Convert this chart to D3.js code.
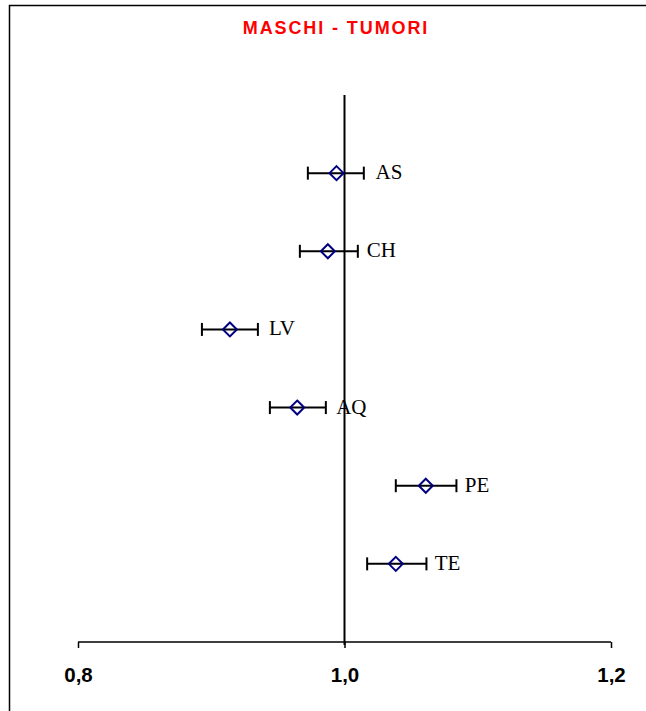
<!DOCTYPE html>
<html><head><meta charset="utf-8">
<script src="https://cdn.jsdelivr.net/npm/d3@7/dist/d3.min.js"></script>
<style>html,body{margin:0;padding:0;background:#fff;}svg{display:block;}</style>
</head><body>
<script>
const title = "MASCHI - TUMORI";
const categories = ["AS", "CH", "LV", "AQ", "PE", "TE"];
const estimates = [0.994, 0.9875, 0.914, 0.9645, 1.061, 1.0385];
const lower = [0.9725, 0.9665, 0.893, 0.944, 1.0385, 1.017];
const upper = [1.0145, 1.010, 0.935, 0.986, 1.084, 1.0615];
const xTicks = [0.8, 1.0, 1.2];
const refValue = 1.0;

const W = 646, H = 711;
const svg = d3.select("body").append("svg").attr("width", W).attr("height", H);

// border
svg.append("path").attr("d", `M9.5,${H} V5.5 H${W}`).attr("fill", "none").attr("stroke", "#000").attr("stroke-width", 1.5);

const x = d3.scaleLinear().domain([0.8, 1.2]).range([78, 611]);
const y = d3.scaleLinear().domain([0, categories.length + 1]).range([95, 642]);

svg.append("text").attr("x", 336).attr("y", 34).attr("text-anchor", "middle")
  .attr("font-family", "Arial, 'Liberation Sans', sans-serif").attr("font-weight", "bold")
  .attr("font-size", 18).attr("letter-spacing", 1.9).attr("fill", "#ff0000").text(title);

// x axis
const axis = d3.axisBottom(x).tickValues(xTicks).tickSize(6).tickPadding(0)
  .tickFormat(d => d3.format(".1f")(d).replace(".", ","));
const gA = svg.append("g").attr("transform", "translate(0,642)").call(axis);
gA.select(".domain").attr("stroke", "#000").attr("stroke-width", 1.5).attr("d", `M${x(0.8)},0H${x(1.2)}`);
gA.selectAll(".tick line").attr("stroke", "#000").attr("stroke-width", 1.5);
gA.selectAll(".tick text").attr("y", 39.5).attr("dy", null)
  .attr("font-family", "Arial, 'Liberation Sans', sans-serif").attr("font-weight", "bold")
  .attr("font-size", 20.5).attr("fill", "#000");

// reference line
svg.append("line").attr("x1", x(refValue)).attr("x2", x(refValue)).attr("y1", 95).attr("y2", 645)
  .attr("stroke", "#000").attr("stroke-width", 2);

const data = categories.map((c, i) => ({c, i, est: estimates[i], lo: lower[i], hi: upper[i]}));
const g = svg.append("g");
const rows = g.selectAll("g.row").data(data).join("g").attr("class", "row")
  .attr("transform", d => `translate(0,${y(d.i + 1)})`);
rows.append("line").attr("x1", d => x(d.lo)).attr("x2", d => x(d.hi)).attr("stroke", "#000").attr("stroke-width", 2);
rows.append("line").attr("x1", d => x(d.lo)).attr("x2", d => x(d.lo)).attr("y1", -6.5).attr("y2", 6.5).attr("stroke", "#000").attr("stroke-width", 2);
rows.append("line").attr("x1", d => x(d.hi)).attr("x2", d => x(d.hi)).attr("y1", -6.5).attr("y2", 6.5).attr("stroke", "#000").attr("stroke-width", 2);
rows.append("path").attr("d", d => `M${x(d.est)},-7 L${x(d.est)+7},0 L${x(d.est)},7 L${x(d.est)-7},0Z`)
  .attr("fill", "none").attr("stroke", "#000080").attr("stroke-width", 2);
rows.append("text").attr("x", d => x(d.est) + 39).attr("y", 6)
  .attr("font-family", "'Times New Roman', 'Liberation Serif', serif").attr("font-size", 21)
  .attr("fill", "#000").text(d => d.c);
</script>
</body></html>
